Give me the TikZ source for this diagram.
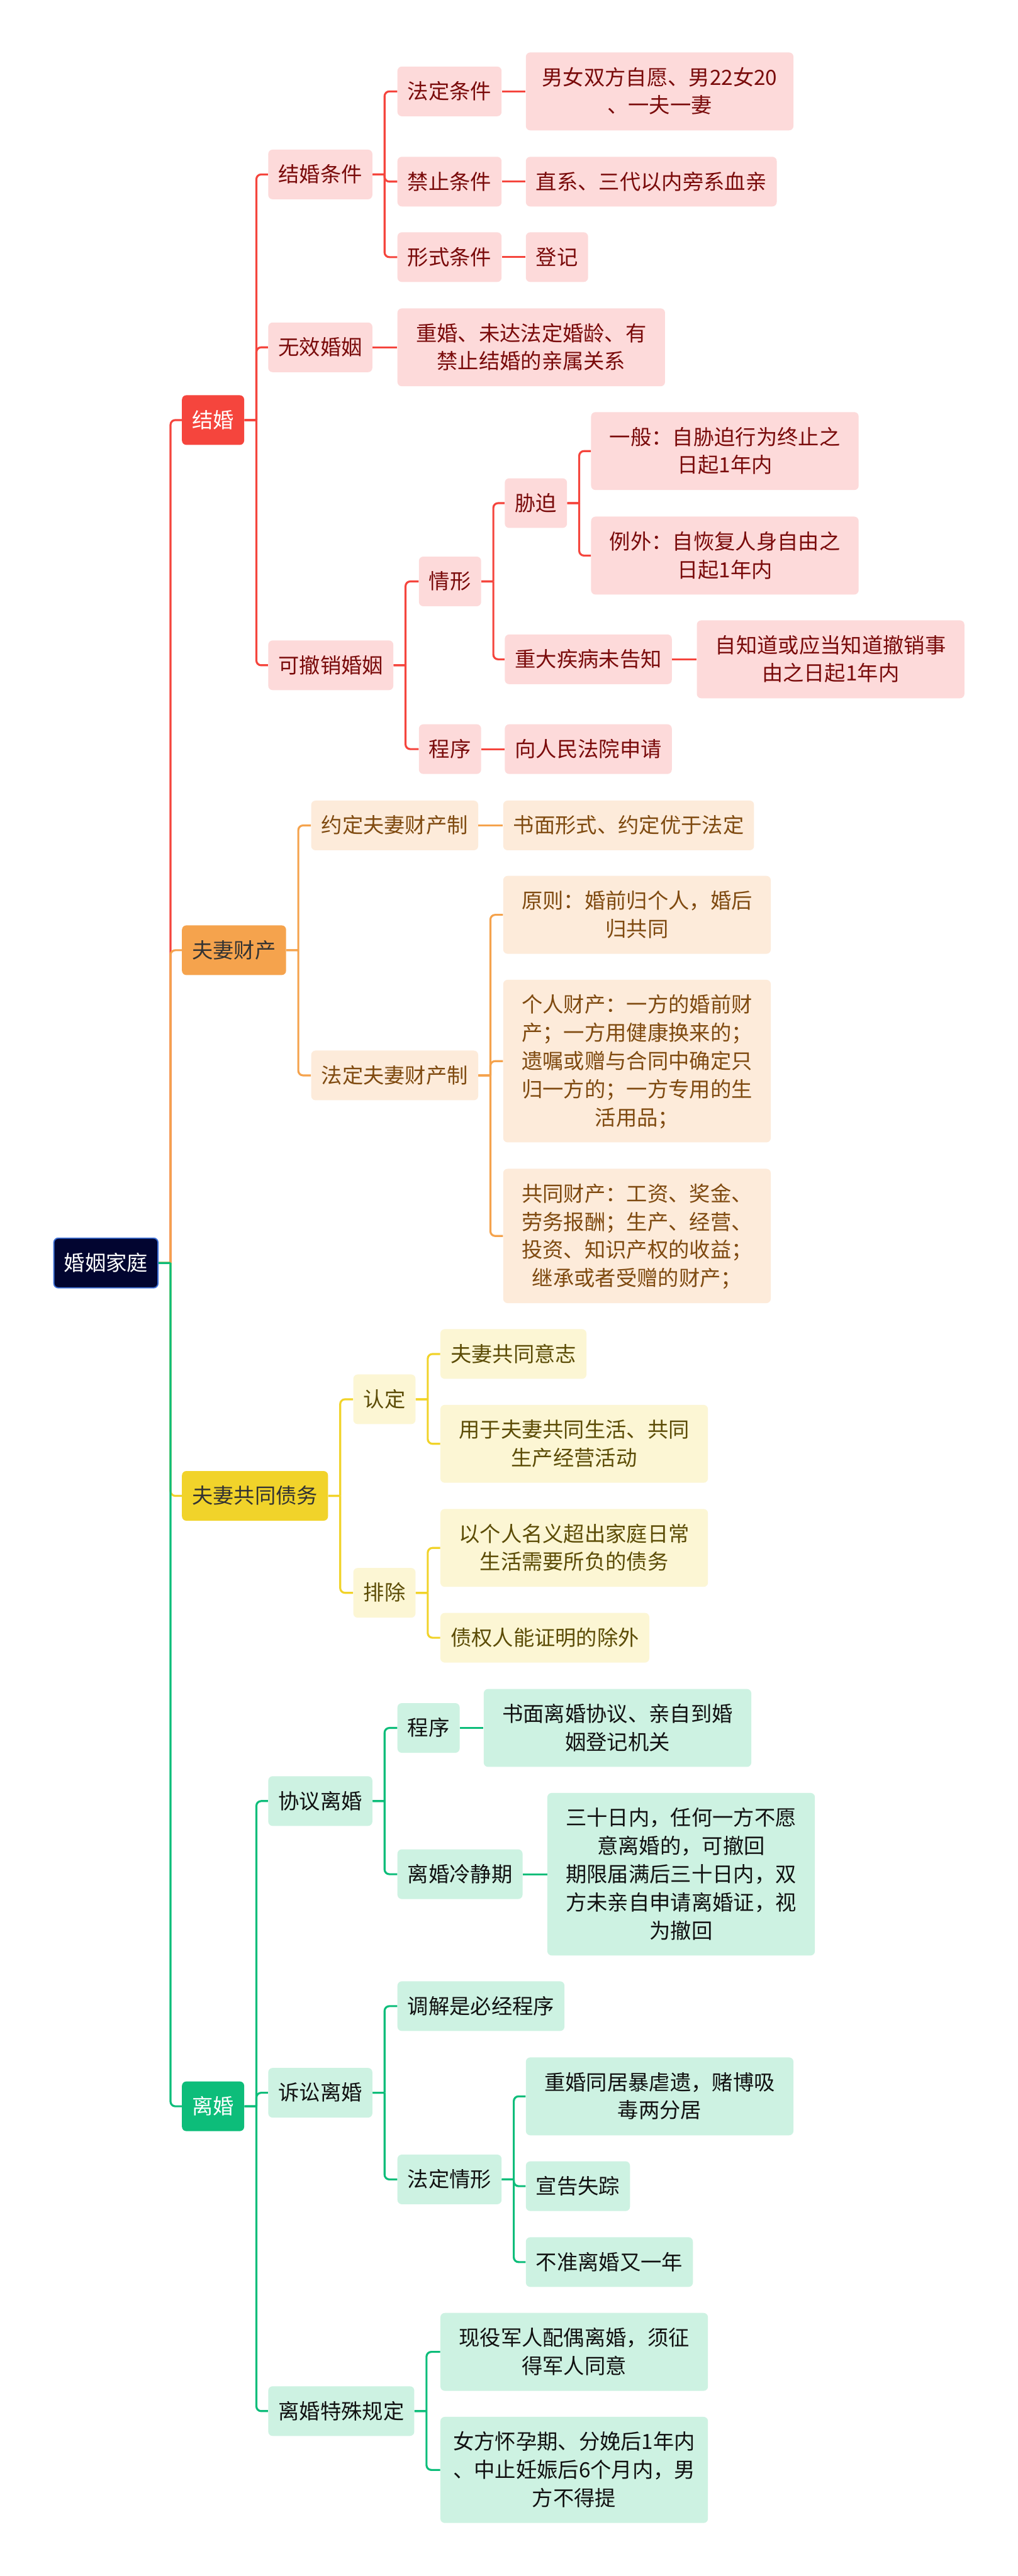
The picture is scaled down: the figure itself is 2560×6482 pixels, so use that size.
\documentclass[tikz,border=0pt]{standalone}
\usepackage{fontspec}
\setmainfont{Noto Sans CJK SC}
\usepackage{tikz}
\usetikzlibrary{positioning}
\usetikzlibrary{calc}

\definecolor{rootfill}{HTML}{020530}
\definecolor{rootedge}{HTML}{3C6FD6}
\definecolor{redmain}{HTML}{F5453D}
\definecolor{redsoft}{HTML}{FDDADA}
\definecolor{redtext}{HTML}{7A0B0B}
\definecolor{orangemain}{HTML}{F5A34D}
\definecolor{orangesoft}{HTML}{FDEBDA}
\definecolor{orangetext}{HTML}{7F4A10}
\definecolor{yellowmain}{HTML}{F1D32A}
\definecolor{yellowsoft}{HTML}{FCF6D4}
\definecolor{yellowtext}{HTML}{5C4C06}
\definecolor{greenmain}{HTML}{0DBD7A}
\definecolor{greensoft}{HTML}{CDF2E2}
\definecolor{greentext}{HTML}{111111}

\newcommand{\cnsize}{\fontsize{15pt}{20.2pt}\selectfont}
\newcommand{\linestrut}{\rule[-4.6pt]{0pt}{20.2pt}}

\begin{document}
\begin{tikzpicture}[x=0.1mm, y=-0.1mm,
    box/.style={rounded corners=1.1mm, inner xsep=2.55mm, inner ysep=2.7mm, anchor=west, font=\cnsize,
      execute at begin node=\linestrut, execute at end node=\linestrut},
    wide/.style={text width=62.2mm, align=center},
    rootbox/.style={box, fill=rootfill, draw=rootedge, line width=0.3mm, text=white},
    redtop/.style={box, fill=redmain, text=white},
    redsub/.style={box, fill=redsoft, text=redtext},
    orangetop/.style={box, fill=orangemain, text=black!80},
    orangesub/.style={box, fill=orangesoft, text=orangetext},
    yellowtop/.style={box, fill=yellowmain, text=black!80},
    yellowsub/.style={box, fill=yellowsoft, text=yellowtext},
    greentop/.style={box, fill=greenmain, text=white},
    greensub/.style={box, fill=greensoft, text=greentext},
    redline/.style={draw=redmain, line width=0.5mm},
    orangeline/.style={draw=orangemain, line width=0.5mm},
    yellowline/.style={draw=yellowmain, line width=0.5mm},
    greenline/.style={draw=greenmain, line width=0.5mm}]
        % Define the stub length and the bend radius of the connectors
        \def\gap{30}
        \def\bend{1.2mm}

        \useasboundingbox (0,0) rectangle (2560,6482);
        \fill[white] (0,0) rectangle (2560,6482);

        % Draw the central topic
        \node[rootbox] (R) at (134,3178) {婚姻家庭};

        % Draw the four main branches
        \node[redtop] (J) at (457,1057) {结婚};
        \node[orangetop] (P) at (457,2391) {夫妻财产};
        \node[yellowtop] (D) at (457,3764) {夫妻共同债务};
        \node[greentop] (L) at (457,5300) {离婚};

        % Marriage
        \node[redsub] (J1) at (674,439) {结婚条件};
        \node[redsub] (J1a) at (999,230) {法定条件};
        \node[redsub, wide] (J1a1) at (1322,230) {男女双方自愿、男22女20\\、一夫一妻};
        \node[redsub] (J1b) at (999,457) {禁止条件};
        \node[redsub] (J1b1) at (1322,457) {直系、三代以内旁系血亲};
        \node[redsub] (J1c) at (999,647) {形式条件};
        \node[redsub] (J1c1) at (1322,647) {登记};
        \node[redsub] (J2) at (674,874) {无效婚姻};
        \node[redsub, wide] (J2a) at (999,874) {重婚、未达法定婚龄、有\\禁止结婚的亲属关系};
        \node[redsub] (J3) at (674,1674) {可撤销婚姻};
        \node[redsub] (J3a) at (1053,1463) {情形};
        \node[redsub] (J3a1) at (1269,1266) {胁迫};
        \node[redsub, wide] (J3a1a) at (1486,1135) {一般：自胁迫行为终止之\\日起1年内};
        \node[redsub, wide] (J3a1b) at (1486,1398) {例外：自恢复人身自由之\\日起1年内};
        \node[redsub] (J3a2) at (1269,1659) {重大疾病未告知};
        \node[redsub, wide] (J3a2a) at (1752,1659) {自知道或应当知道撤销事\\由之日起1年内};
        \node[redsub] (J3b) at (1053,1885) {程序};
        \node[redsub] (J3b1) at (1269,1885) {向人民法院申请};

        % Property
        \node[orangesub] (P1) at (782,2077) {约定夫妻财产制};
        \node[orangesub] (P1a) at (1265,2077) {书面形式、约定优于法定};
        \node[orangesub] (P2) at (782,2706) {法定夫妻财产制};
        \node[orangesub, wide] (P2a) at (1265,2302) {原则：婚前归个人，婚后\\归共同};
        \node[orangesub, wide] (P2b) at (1265,2670) {个人财产：一方的婚前财\\产；一方用健康换来的；\\遗嘱或赠与合同中确定只\\归一方的；一方专用的生\\活用品；};
        \node[orangesub, wide] (P2c) at (1265,3110) {共同财产：工资、奖金、\\劳务报酬；生产、经营、\\投资、知识产权的收益；\\继承或者受赠的财产；};

        % Debts
        \node[yellowsub] (D1) at (888,3521) {认定};
        \node[yellowsub] (D1a) at (1107,3407) {夫妻共同意志};
        \node[yellowsub, wide] (D1b) at (1107,3633) {用于夫妻共同生活、共同\\生产经营活动};
        \node[yellowsub] (D2) at (888,4008) {排除};
        \node[yellowsub, wide] (D2a) at (1107,3895) {以个人名义超出家庭日常\\生活需要所负的债务};
        \node[yellowsub] (D2b) at (1107,4121) {债权人能证明的除外};

        % Divorce
        \node[greensub] (L1) at (674,4532) {协议离婚};
        \node[greensub] (L1a) at (999,4348) {程序};
        \node[greensub, wide] (L1a1) at (1216,4348) {书面离婚协议、亲自到婚\\姻登记机关};
        \node[greensub] (L1b) at (999,4716) {离婚冷静期};
        \node[greensub, wide] (L1b1) at (1376,4716) {三十日内，任何一方不愿\\意离婚的，可撤回\\期限届满后三十日内，双\\方未亲自申请离婚证，视\\为撤回};
        \node[greensub] (L2) at (674,5266) {诉讼离婚};
        \node[greensub] (L2a) at (999,5048) {调解是必经程序};
        \node[greensub] (L2b) at (999,5484) {法定情形};
        \node[greensub, wide] (L2b1) at (1322,5275) {重婚同居暴虐遗，赌博吸\\毒两分居};
        \node[greensub] (L2b2) at (1322,5501) {宣告失踪};
        \node[greensub] (L2b3) at (1322,5692) {不准离婚又一年};
        \node[greensub] (L3) at (674,6067) {离婚特殊规定};
        \node[greensub, wide] (L3a) at (1107,5918) {现役军人配偶离婚，须征\\得军人同意};
        \node[greensub, wide] (L3b) at (1107,6215) {女方怀孕期、分娩后1年内\\、中止妊娠后6个月内，男\\方不得提};

        % Draw the connectors that fork, branch by branch
        \foreach \p/\c in {R/J, J/J1, J/J2, J/J3, J1/J1a, J1/J1b, J1/J1c,
            J3/J3a, J3/J3b, J3a/J3a1, J3a/J3a2, J3a1/J3a1a, J3a1/J3a1b}
          \draw[redline] (\p.east) -- ++(\gap,0) coordinate (t) (t) [rounded corners=\bend] |- (\c.west);
        \foreach \p/\c in {R/P, P/P1, P/P2, P2/P2a, P2/P2b, P2/P2c}
          \draw[orangeline] (\p.east) -- ++(\gap,0) coordinate (t) (t) [rounded corners=\bend] |- (\c.west);
        \foreach \p/\c in {R/D, D/D1, D/D2, D1/D1a, D1/D1b, D2/D2a, D2/D2b}
          \draw[yellowline] (\p.east) -- ++(\gap,0) coordinate (t) (t) [rounded corners=\bend] |- (\c.west);
        \foreach \p/\c in {R/L, L/L1, L/L2, L/L3, L1/L1a, L1/L1b,
            L2/L2a, L2/L2b, L2b/L2b1, L2b/L2b2, L2b/L2b3, L3/L3a, L3/L3b}
          \draw[greenline] (\p.east) -- ++(\gap,0) coordinate (t) (t) [rounded corners=\bend] |- (\c.west);

        % Draw the straight connectors to single children
        \foreach \p/\c in {J1a/J1a1, J1b/J1b1, J1c/J1c1, J2/J2a, J3a2/J3a2a, J3b/J3b1}
          \draw[redline] (\p.east) -- (\c.west);
        \draw[orangeline] (P1.east) -- (P1a.west);
        \foreach \p/\c in {L1a/L1a1, L1b/L1b1}
          \draw[greenline] (\p.east) -- (\c.west);
      \end{tikzpicture}
\end{document}
